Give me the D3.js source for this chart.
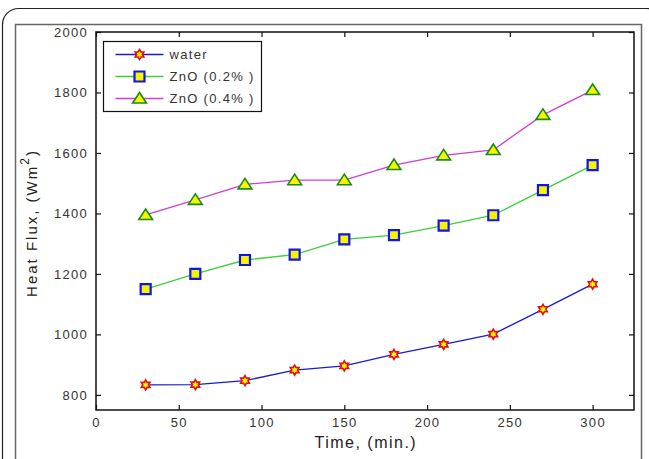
<!DOCTYPE html>
<html>
<head>
<meta charset="utf-8">
<script src="https://cdn.jsdelivr.net/npm/d3@7"></script>
<style>
  body { margin: 0; background: #fff; }
  svg { display: block; font-family: "Liberation Sans", Arial, sans-serif; }
</style>
</head>
<body>
<div id="chart"></div>
<script>
// data
const times = [30, 60, 90, 120, 150, 180, 210, 240, 270, 300];
const water = [833, 834, 847, 882, 896, 934, 967, 1001, 1083, 1166];
const zno02 = [1150, 1200, 1246, 1264, 1314, 1328, 1360, 1394, 1477, 1560];
const zno04 = [1395, 1445, 1496, 1510, 1510, 1560, 1592, 1610, 1726, 1808];
const seriesNames = ["water", "ZnO (0.2% )", "ZnO (0.4% )"];
const xTicks = [0, 50, 100, 150, 200, 250, 300];
const yTicks = [800, 1000, 1200, 1400, 1600, 1800, 2000];

const width = 649, height = 459;
const margin = { top: 32, right: 15, bottom: 49, left: 96 };

const svg = d3.select("#chart").append("svg")
  .attr("width", width)
  .attr("height", height);

// frames around the figure
svg.append("rect")
  .attr("x", 2.5).attr("y", 8.5)
  .attr("width", 660).attr("height", 480)
  .attr("rx", 16)
  .attr("fill", "none").attr("stroke", "#222").attr("stroke-width", 1.2);
svg.append("rect")
  .attr("x", 15.5).attr("y", 24.5)
  .attr("width", 626).attr("height", 460)
  .attr("fill", "none").attr("stroke", "#666").attr("stroke-width", 1.5);

const x = d3.scaleLinear().domain([0, 325]).range([margin.left, 634]);
const y = d3.scaleLinear().domain([750, 2000]).range([410, margin.top]);

const x0 = x.range()[0], x1 = x.range()[1];
const y0 = y.range()[0], y1 = y.range()[1];

// axes with inward ticks on all four sides
const tickLen = 5;
svg.append("g")
  .attr("transform", `translate(0,${y0})`)
  .call(d3.axisBottom(x).tickValues(xTicks).tickSizeInner(-tickLen).tickSizeOuter(0).tickPadding(8))
  .call(g => g.select(".domain").remove());
svg.append("g")
  .attr("transform", `translate(0,${y1})`)
  .call(d3.axisTop(x).tickValues(xTicks).tickSizeInner(-tickLen).tickSizeOuter(0).tickFormat(""))
  .call(g => g.select(".domain").remove());
svg.append("g")
  .attr("transform", `translate(${x0},0)`)
  .call(d3.axisLeft(y).tickValues(yTicks).tickSizeInner(-tickLen).tickSizeOuter(0).tickPadding(8).tickFormat(d3.format("d")))
  .call(g => g.select(".domain").remove());
svg.append("g")
  .attr("transform", `translate(${x1},0)`)
  .call(d3.axisRight(y).tickValues(yTicks).tickSizeInner(-tickLen).tickSizeOuter(0).tickFormat(""))
  .call(g => g.select(".domain").remove());

svg.selectAll(".tick line").attr("stroke", "#111").attr("stroke-width", 1.2);
svg.selectAll(".tick text").attr("font-size", 13).attr("fill", "#333")
  .attr("letter-spacing", 1.3)
  .attr("font-family", "Liberation Sans, Arial, sans-serif");

svg.append("rect")
  .attr("x", x0).attr("y", y1)
  .attr("width", x1 - x0).attr("height", y0 - y1)
  .attr("fill", "none").attr("stroke", "#111").attr("stroke-width", 1.5);

// axis titles
svg.append("text")
  .attr("x", x(163)).attr("y", y0 + 38)
  .attr("text-anchor", "middle")
  .attr("font-size", 16).attr("fill", "#222")
  .attr("letter-spacing", 1.5)
  .text("Time, (min.)");

const yLab = svg.append("text")
  .attr("transform", `translate(37,${(y0 + y1) / 2 + 2}) rotate(-90)`)
  .attr("text-anchor", "middle")
  .attr("font-size", 15).attr("fill", "#222")
  .attr("letter-spacing", 2);
yLab.append("tspan").text("Heat Flux, (Wm");
yLab.append("tspan").attr("dy", -8).attr("font-size", 12).text("2");
yLab.append("tspan").attr("dy", 8).text(")");

// marker shapes
const hexagram = (s) => {
  const pts = [];
  for (let i = 0; i < 12; i++) {
    const r = i % 2 === 0 ? s : s * 0.58;
    const a = (i * Math.PI) / 6 - Math.PI / 2;
    pts.push([r * Math.cos(a), r * Math.sin(a)]);
  }
  return "M" + pts.map(p => p.join(",")).join("L") + "Z";
};
const square = (s) => `M${-s},${-s}H${s}V${s}H${-s}Z`;
const triangle = (s) => `M0,${-s}L${s * 1.15},${s * 0.75}L${-s * 1.15},${s * 0.75}Z`;

const series = [
  { name: seriesNames[0], values: water, line: "#1a1ad0", stroke: "#e01010", sw: 1.6, shape: hexagram(5) },
  { name: seriesNames[1], values: zno02, line: "#3ccf3c", stroke: "#1414e6", sw: 2.2, shape: square(5) },
  { name: seriesNames[2], values: zno04, line: "#d23cd2", stroke: "#1a8a1a", sw: 1.6, shape: triangle(6) }
];

const line = d3.line().x((d, i) => x(times[i])).y(d => y(d));

const gSeries = svg.append("g").selectAll("g").data(series).join("g");
gSeries.append("path")
  .attr("d", d => line(d.values))
  .attr("fill", "none")
  .attr("stroke", d => d.line)
  .attr("stroke-width", 1.3);
gSeries.selectAll(".pt")
  .data(d => d.values.map((v, i) => ({ v, i, s: d })))
  .join("path")
  .attr("class", "pt")
  .attr("transform", d => `translate(${x(times[d.i])},${y(d.v)})`)
  .attr("d", d => d.s.shape)
  .attr("fill", "#f5f500")
  .attr("stroke", d => d.s.stroke)
  .attr("stroke-width", d => d.s.sw);

// legend
const legend = svg.append("g").attr("transform", "translate(103.5,41.5)");
legend.append("rect")
  .attr("width", 158).attr("height", 70)
  .attr("fill", "#fff").attr("stroke", "#111").attr("stroke-width", 1.2);
const items = legend.selectAll(".item").data(series).join("g")
  .attr("class", "item")
  .attr("transform", (d, i) => `translate(0,${13 + i * 22})`);
items.append("line")
  .attr("x1", 12).attr("x2", 60)
  .attr("stroke", d => d.line).attr("stroke-width", 1.3);
items.append("path")
  .attr("transform", "translate(36,0)")
  .attr("d", d => d.shape)
  .attr("fill", "#f5f500")
  .attr("stroke", d => d.stroke)
  .attr("stroke-width", d => d.sw);
items.append("text")
  .attr("x", 66).attr("dy", "0.35em")
  .attr("font-size", 13).attr("fill", "#333")
  .attr("letter-spacing", 1.3)
  .text(d => d.name);
</script>
</body>
</html>
